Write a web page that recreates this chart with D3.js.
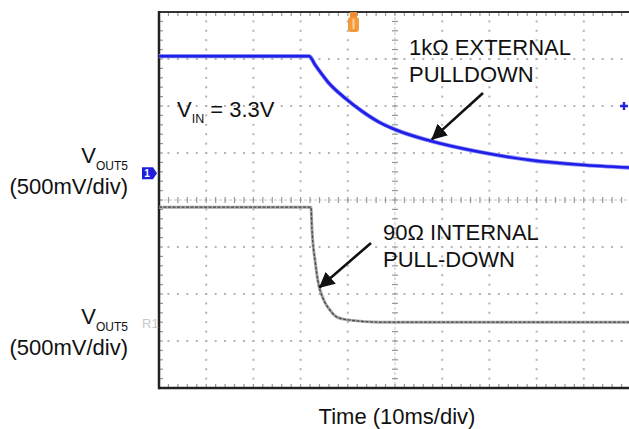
<!DOCTYPE html>
<html><head><meta charset="utf-8">
<script src="https://cdn.jsdelivr.net/npm/d3@7"></script>
<style>html,body{margin:0;padding:0;background:#fff}svg{display:block}</style>
</head><body><svg id="c" width="629" height="429"></svg>
<script>
// ---- data (time in ms, 10 ms/div; voltage in V, 500 mV/div) ----
const xTicksMs = [0, 10, 20, 30, 40, 50, 60, 70, 80, 90, 100];
const yDivTicks = [0, 1, 2, 3, 4, 5, 6, 7, 8];
const blueTimeMs = [0, 10, 20, 31.8, 33.1, 35.8, 39.4, 43.0, 46.4, 50.0, 57.4, 68.0, 78.6, 89.2, 99.6];
const blueVolts  = [1.245, 1.245, 1.245, 1.245, 1.15, 0.97, 0.80, 0.66, 0.55, 0.465, 0.345, 0.225, 0.14, 0.09, 0.06];
const grayTimeMs = [0, 10, 20, 32.2, 32.4, 33.1, 33.7, 34.7, 36.2, 37.7, 40.5, 46.8, 60, 80, 100];
const grayVolts  = [1.234, 1.234, 1.234, 1.234, 1.01, 0.65, 0.44, 0.27, 0.14, 0.064, 0.032, 0.01, 0.01, 0.01, 0.01];
const ch1GroundDiv = 4.57;   // channel 1 ground marker, divisions from bottom
const chRGroundDiv = 1.38;   // reference trace ground marker
const voltsPerDiv = 0.5;

const svg = d3.select("#c");
const W = 629, H = 429;
const L = 159, T = 12, B = 388, R = 631;
const x = d3.scaleLinear().domain([0, 100]).range([L, R]);
const yDiv = d3.scaleLinear().domain([0, 8]).range([B, T]);
const y1 = d3.scaleLinear().domain([-ch1GroundDiv * voltsPerDiv, (8 - ch1GroundDiv) * voltsPerDiv]).range([B, T]);
const yR = d3.scaleLinear().domain([-chRGroundDiv * voltsPerDiv, (8 - chRGroundDiv) * voltsPerDiv]).range([B, T]);

const font = "'Liberation Sans', Arial, Helvetica, sans-serif";
const FS = 22;
const g = svg.append("g");

// grid dotted lines
const minorX = d3.range(0, 100.01, 2);
const minorY = d3.range(0, 8.001, 0.2);
const dotCol = "#b4b4b4";
xTicksMs.slice(1).forEach(t => {
  if (t === 50) return;
  minorY.forEach(d => g.append("rect").attr("x", x(t) - 1).attr("y", yDiv(d) - 1).attr("width", 2).attr("height", 2).attr("fill", dotCol));
});
yDivTicks.slice(1, 8).forEach(d => {
  if (d === 4) return;
  minorX.forEach(t => g.append("rect").attr("x", x(t) - 1).attr("y", yDiv(d) - 1).attr("width", 2).attr("height", 2).attr("fill", dotCol));
});
// center crosshair with ticks
const cx = x(50), cy = yDiv(4);
g.append("line").attr("x1", cx).attr("x2", cx).attr("y1", T).attr("y2", B).attr("stroke", "#c4c4c4").attr("stroke-width", 1).attr("stroke-dasharray", "3,2");
g.append("line").attr("x1", L).attr("x2", W).attr("y1", cy).attr("y2", cy).attr("stroke", "#c4c4c4").attr("stroke-width", 1).attr("stroke-dasharray", "3,2");
minorY.forEach(d => g.append("line").attr("x1", cx - 3).attr("x2", cx + 3).attr("y1", yDiv(d)).attr("y2", yDiv(d)).attr("stroke", "#999").attr("stroke-width", 1.2));
minorX.forEach(t => g.append("line").attr("x1", x(t)).attr("x2", x(t)).attr("y1", cy - 3).attr("y2", cy + 3).attr("stroke", "#999").attr("stroke-width", 1.2));
// frame ticks
minorY.forEach(d => g.append("line").attr("x1", L).attr("x2", L + 4).attr("y1", yDiv(d)).attr("y2", yDiv(d)).attr("stroke", "#999").attr("stroke-width", 1.2));
minorX.forEach(t => {
  g.append("line").attr("x1", x(t)).attr("x2", x(t)).attr("y1", T).attr("y2", T + 4).attr("stroke", "#999").attr("stroke-width", 1.2);
  g.append("line").attr("x1", x(t)).attr("x2", x(t)).attr("y1", B).attr("y2", B - 4).attr("stroke", "#999").attr("stroke-width", 1.2);
});
// frame
g.append("line").attr("x1", L).attr("x2", W).attr("y1", T).attr("y2", T).attr("stroke", "#333").attr("stroke-width", 2);
g.append("line").attr("x1", L).attr("x2", W).attr("y1", B).attr("y2", B).attr("stroke", "#222").attr("stroke-width", 2.5);
g.append("line").attr("x1", L).attr("x2", L).attr("y1", T - 1).attr("y2", B + 1.2).attr("stroke", "#222").attr("stroke-width", 2.5);

// traces
const blueData = blueTimeMs.map((t, i) => [t, blueVolts[i]]);
const grayData = grayTimeMs.map((t, i) => [t, grayVolts[i]]);
const lineB = d3.line().x(d => x(d[0])).y(d => y1(d[1])).curve(d3.curveMonotoneX);
const lineG = d3.line().x(d => x(d[0])).y(d => yR(d[1])).curve(d3.curveMonotoneX);
g.append("path").attr("d", lineB(blueData)).attr("fill", "none").attr("stroke", "#8c8cf5").attr("stroke-width", 4.2);
g.append("path").attr("d", lineB(blueData)).attr("fill", "none").attr("stroke", "#1e1ee8").attr("stroke-width", 2.6);
g.append("path").attr("d", lineG(grayData)).attr("fill", "none").attr("stroke", "#a8a8a8").attr("stroke-width", 3);
g.append("path").attr("d", lineG(grayData)).attr("fill", "none").attr("stroke", "#4a4a4a").attr("stroke-width", 1.3).attr("stroke-dasharray", "3,1.5");

// markers
const m1y = yDiv(ch1GroundDiv);
g.append("path").attr("d", `M${L-17},${m1y-6} h11 l4,6 l-4,6 h-11 z`).attr("fill", "#1e1ee0");
g.append("text").attr("x", L - 12).attr("y", m1y + 4).attr("font-family", font).attr("font-size", 10).attr("font-weight", "bold").attr("fill", "#fff").attr("text-anchor", "middle").text("1");
const mRy = yDiv(chRGroundDiv);
g.append("text").attr("x", L - 17).attr("y", mRy + 5).attr("font-family", font).attr("font-size", 13).attr("fill", "#c8c8c8").text("R1");
const tx = x(41.2);
g.append("rect").attr("x", tx - 3.5).attr("y", T).attr("width", 7).attr("height", 5).attr("fill", "#f08a2a");
g.append("rect").attr("x", tx - 5.5).attr("y", T + 5).attr("width", 11).attr("height", 15).attr("rx", 3).attr("fill", "#f39a3c");
g.append("rect").attr("x", tx - 1).attr("y", T + 7).attr("width", 2).attr("height", 10).attr("fill", "#fbd0a0");
const px = 624, py = yDiv(6);
g.append("line").attr("x1", px - 4).attr("x2", px + 4).attr("y1", py).attr("y2", py).attr("stroke", "#2424e0").attr("stroke-width", 2.5);
g.append("line").attr("x1", px).attr("x2", px).attr("y1", py - 4).attr("y2", py + 4).attr("stroke", "#2424e0").attr("stroke-width", 2.5);

// arrows
svg.append("defs").append("marker").attr("id", "ah").attr("viewBox", "0 0 10 10").attr("refX", 9.5).attr("refY", 5)
  .attr("markerWidth", 6).attr("markerHeight", 6).attr("markerUnits", "strokeWidth").attr("orient", "auto")
  .append("path").attr("d", "M0,0 L10,5 L0,10 z").attr("fill", "#111");
function arrow(x0, y0, x1p, y1p) {
  g.append("line").attr("x1", x0).attr("y1", y0).attr("x2", x1p).attr("y2", y1p).attr("stroke", "#111").attr("stroke-width", 2.6).attr("marker-end", "url(#ah)");
}
arrow(483, 93, x(57.8), y1(0.36));
arrow(371, 243, x(34.0), yR(0.38));

// texts
function txt(xp, yp, s, opts = {}) {
  return g.append("text").attr("x", xp).attr("y", yp).attr("font-family", font).attr("font-size", opts.size || FS)
    .attr("fill", "#111").attr("text-anchor", opts.anchor || "start").text(s);
}
txt(409, 55, "1kΩ EXTERNAL");
txt(409, 82, "PULLDOWN");
txt(383, 240, "90Ω INTERNAL");
txt(383, 267, "PULL-DOWN");
const vin = g.append("text").attr("x", 177).attr("y", 117).attr("font-family", font).attr("font-size", FS).attr("fill", "#111");
vin.append("tspan").text("V");
vin.append("tspan").attr("font-size", 12.5).attr("dy", 6).text("IN");
vin.append("tspan").attr("dy", -6).text(" = 3.3V");
function vout(yb) {
  const t = g.append("text").attr("x", 128).attr("y", yb).attr("font-family", font).attr("font-size", FS).attr("fill", "#111").attr("text-anchor", "end");
  t.append("tspan").text("V");
  t.append("tspan").attr("font-size", 12).attr("dy", 6.5).text("OUT5");
  txt(128, yb + 31, "(500mV/div)", { anchor: "end" });
}
vout(163);
vout(324);
txt(397, 424, "Time (10ms/div)", { anchor: "middle" });
</script></body></html>
